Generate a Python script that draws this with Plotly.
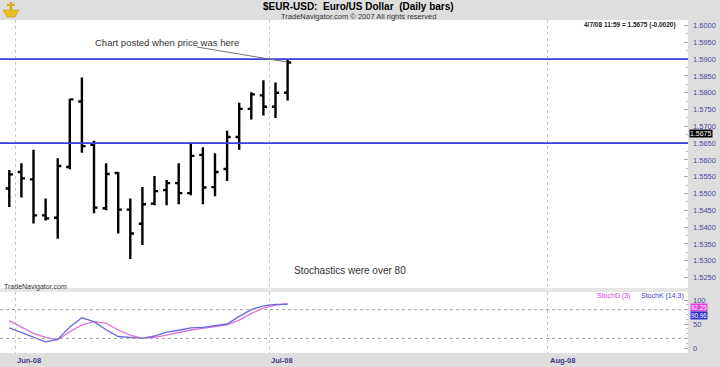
import plotly.graph_objects as go

# ---------------- data ----------------
dates = ["2008-05-30", "2008-06-02", "2008-06-03", "2008-06-04", "2008-06-05", "2008-06-06",
         "2008-06-09", "2008-06-10", "2008-06-11", "2008-06-12", "2008-06-13", "2008-06-16",
         "2008-06-17", "2008-06-18", "2008-06-19", "2008-06-20", "2008-06-23", "2008-06-24",
         "2008-06-25", "2008-06-26", "2008-06-27", "2008-06-30", "2008-07-01", "2008-07-02"]
open_ = [1.5515, 1.5564, 1.5542, 1.5435, 1.5428, 1.5579, 1.5774, 1.5645, 1.5456, 1.5561, 1.5452, 1.5410,
         1.5470, 1.5510, 1.5531, 1.5501, 1.5615, 1.5519, 1.5573, 1.5668, 1.5752, 1.5792, 1.5758, 1.5800]
high = [1.5570, 1.5590, 1.5630, 1.5485, 1.5605, 1.5782, 1.5845, 1.5657, 1.5590, 1.5564, 1.5485, 1.5519,
        1.5552, 1.5540, 1.5590, 1.5651, 1.5638, 1.5620, 1.5687, 1.5770, 1.5801, 1.5837, 1.5830, 1.5897]
low = [1.5460, 1.5488, 1.5411, 1.5420, 1.5365, 1.5572, 1.5621, 1.5441, 1.5450, 1.5381, 1.5305, 1.5347,
       1.5465, 1.5465, 1.5468, 1.5495, 1.5468, 1.5492, 1.5537, 1.5630, 1.5720, 1.5732, 1.5725, 1.5777]
close = [1.5557, 1.5545, 1.5435, 1.5426, 1.5582, 1.5780, 1.5641, 1.5458, 1.5558, 1.5452, 1.5381, 1.5468,
         1.5507, 1.5531, 1.5501, 1.5612, 1.5518, 1.5564, 1.5668, 1.5752, 1.5795, 1.5758, 1.5800, 1.5890]

stoch_k = [42, 32, 22, 13, 18, 44, 63, 55, 38, 24, 22, 20, 25, 33, 37, 42, 43, 46, 50, 66, 80, 88, 91, 90.96]
stoch_d = [57, 44, 30.5, 22, 17, 34, 48, 55, 51.5, 37.5, 27, 20, 22, 27, 32.5, 37.5, 41, 44, 48, 58, 72, 83, 89.5, 92.25]

level_lines = [1.5900, 1.5650]
stoch_levels = [20, 80]
price_ticks = [1.5250, 1.5300, 1.5350, 1.5400, 1.5450, 1.5500, 1.5550, 1.5600, 1.5650, 1.5700,
               1.5750, 1.5800, 1.5850, 1.5900, 1.5950, 1.6000]
stoch_ticks = [0, 50, 100]
month_labels = ["Jun-08", "Jul-08", "Aug-08"]
month_start_index = [1, 22, 45]   # trading-day index of first day of each month

last_price_text = "1.5675"
stoch_d_text = "92.25"
stoch_k_text = "90.96"

# ---------------- helpers ----------------
W, H = 720, 367
def px(x):
    return x / W
def py(y):
    return (H - y) / H

FONT = "Liberation Sans, Arial, sans-serif"
AXC = "#4a4a9a"
idx = list(range(len(dates)))
bounds = [m - 0.5 for m in month_start_index]

fig = go.Figure()
fig.add_trace(go.Ohlc(x=idx, open=open_, high=high, low=low, close=close,
                      increasing=dict(line=dict(color="black", width=2.4)),
                      decreasing=dict(line=dict(color="black", width=2.4)),
                      tickwidth=0.3, xaxis="x", yaxis="y", showlegend=False, hoverinfo="skip"))
fig.add_trace(go.Scatter(x=idx, y=stoch_d, mode="lines", line=dict(color="#e070e0", width=1.3),
                         xaxis="x2", yaxis="y2", showlegend=False))
fig.add_trace(go.Scatter(x=idx, y=stoch_k, mode="lines", line=dict(color="#6868e0", width=1.3),
                         xaxis="x2", yaxis="y2", showlegend=False))

xr = [(0 - 9.3) / 12.1, (688 - 9.3) / 12.1]
xcommon = dict(range=xr, tickmode="array", tickvals=bounds, showticklabels=False, ticks="",
               showgrid=True, gridcolor="#c8c8c8", griddash="dot", gridwidth=1,
               zeroline=False, showline=False, domain=[0, 688 / W], fixedrange=True)

minor_price = [t + 0.0025 for t in price_ticks[:-1]]
fig.update_layout(
    width=W, height=H, margin=dict(l=0, r=0, t=0, b=0),
    paper_bgcolor="#dedede", plot_bgcolor="white", showlegend=False,
    font=dict(family=FONT),
    xaxis=dict(**xcommon, anchor="y", rangeslider=dict(visible=False)),
    xaxis2=dict(**xcommon, anchor="y2", matches="x"),
    yaxis=dict(domain=[py(288), py(20)], range=[1.6 - (288 - 25.5) / 3360, 1.6 + (25.5 - 20) / 3360],
               side="right", anchor="x", tickmode="array", tickvals=price_ticks,
               ticktext=["%.4f" % t for t in price_ticks],
               tickfont=dict(size=7.5, color=AXC, family=FONT), ticks="inside", ticklen=4,
               tickcolor="#aaaaaa", ticklabelstandoff=4,
               minor=dict(tickmode="array", tickvals=minor_price, ticks="inside", ticklen=2, tickcolor="#bbbbbb"),
               showgrid=False, zeroline=False, showline=False, fixedrange=True),
    yaxis2=dict(domain=[py(353), py(292)], range=[-10.4, 116.7], side="right", anchor="x2",
                tickmode="array", tickvals=stoch_ticks, ticktext=[str(t) for t in stoch_ticks],
                tickfont=dict(size=7.5, color=AXC, family=FONT), ticks="inside", ticklen=4,
                tickcolor="#aaaaaa", ticklabelstandoff=4,
                minor=dict(tickmode="array", tickvals=[10, 20, 30, 40, 60, 70, 80, 90], ticks="inside",
                           ticklen=2, tickcolor="#bbbbbb"),
                showgrid=False, zeroline=False, showline=False, fixedrange=True),
)

shapes = []
for lv in level_lines:
    shapes.append(dict(type="line", xref="x domain", x0=0, x1=1, yref="y", y0=lv, y1=lv,
                       line=dict(color="#3c3ce0", width=1.8)))
for lv in stoch_levels:
    shapes.append(dict(type="line", xref="x2 domain", x0=0, x1=1, yref="y2", y0=lv, y1=lv,
                       line=dict(color="#a0a0a0", width=1, dash="dot")))
# pointer line from the note to the bar
shapes.append(dict(type="line", xref="paper", yref="paper", x0=px(197), y0=py(47), x1=px(287), y1=py(62),
                   line=dict(color="#707070", width=1)))
# separator between panels
shapes.append(dict(type="rect", xref="paper", yref="paper", x0=0, x1=px(688), y0=py(292), y1=py(288),
                   fillcolor="#e6e6e6", line=dict(width=0)))
# small yellow logo
shapes.append(dict(type="path", xref="paper", yref="paper",
                   path="M %f,%f L %f,%f L %f,%f L %f,%f Z" % (px(3), py(10), px(19), py(10), px(15), py(17), px(7), py(17)),
                   fillcolor="#e8c020", line=dict(color="#b89010", width=0.5)))
shapes.append(dict(type="line", xref="paper", yref="paper", x0=px(11), y0=py(2), x1=px(11), y1=py(11),
                   line=dict(color="#d8b018", width=2.5)))
shapes.append(dict(type="line", xref="paper", yref="paper", x0=px(7), y0=py(5), x1=px(15), y1=py(5),
                   line=dict(color="#d8b018", width=2)))
fig.update_layout(shapes=shapes)

NB = "\u00a0"
ann = []
ann.append(dict(text="<b>$EUR-USD:" + NB * 2 + "Euro/US Dollar" + NB * 2 + "(Daily bars)</b>",
                x=px(358), y=py(7), font=dict(size=10, color="black")))
ann.append(dict(text="TradeNavigator.com © 2007 All rights reserved", x=px(358), y=py(16.5),
                font=dict(size=7.5, color="#333333")))
ann.append(dict(text="<b>4/7/08 11:59 = 1.5675 (-0.0020)</b>", x=px(678), y=py(24.5), xanchor="right",
                font=dict(size=6.5, color="#222222")))
ann.append(dict(text="Chart posted when price was here", x=px(167), y=py(42), font=dict(size=9.5, color="#333333")))
ann.append(dict(text="Stochastics were over 80", x=px(350), y=py(270), font=dict(size=10, color="#333333")))
ann.append(dict(text="TradeNavigator.com", x=px(2), y=py(286.5), xanchor="left", font=dict(size=7, color="#333333")))
ann.append(dict(text="StochD (3)", x=px(632), y=py(296), xanchor="right", font=dict(size=7, color="#e040e0")))
ann.append(dict(text="StochK (14,3)", x=px(639), y=py(296), xanchor="left", font=dict(size=7, color="#4040d0")))
ann.append(dict(text=last_price_text, x=px(689), y=py(133.5), xanchor="left", bgcolor="black", borderpad=0,
                font=dict(size=7, color="white")))
ann.append(dict(text=stoch_d_text, x=px(690), y=py(307.8), xanchor="left", bgcolor="#e040e0", borderpad=0,
                font=dict(size=6.3, color="white")))
ann.append(dict(text=stoch_k_text, x=px(690), y=py(315.3), xanchor="left", bgcolor="#3030d0", borderpad=0,
                font=dict(size=6.3, color="white")))
for a in ann:
    a.setdefault("xref", "paper")
    a.update(yref="paper", showarrow=False, yanchor="middle")
    a.setdefault("xanchor", "center")
    a["font"].setdefault("family", FONT)
for lbl, b in zip(month_labels, bounds):
    ann.append(dict(text="<b>" + lbl + "</b>", x=b, xref="x2", y=py(360), yref="paper", xanchor="left",
                    yanchor="middle", showarrow=False, font=dict(size=7.5, color="#3a3a8a", family=FONT)))
fig.update_layout(annotations=ann)

fig.write_html("out.html", config={"displayModeBar": False, "staticPlot": True},
               post_script="document.body.style.margin='0';document.body.style.overflow='hidden';")
